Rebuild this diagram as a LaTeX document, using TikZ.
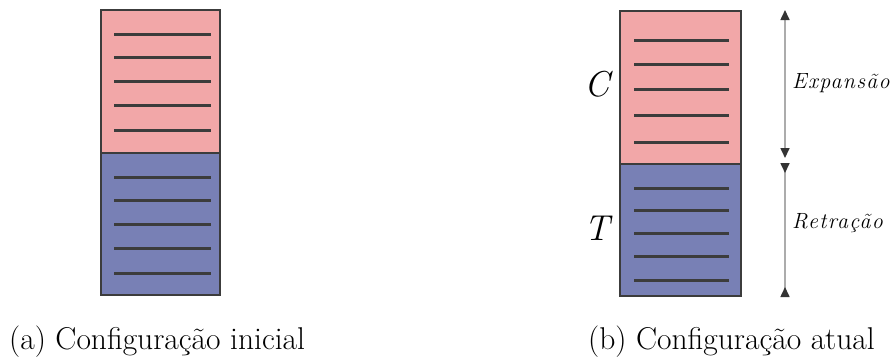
\documentclass[tikz,border=0pt]{standalone}
\usepackage{fontspec}
\newfontfamily\spacedfont[LetterSpace=6]{Latin Modern Roman}
\usetikzlibrary{arrows.meta}
\definecolor{compcol}{HTML}{F2A7A8}
\definecolor{tenscol}{HTML}{7880B5}
\definecolor{edgecol}{HTML}{3C3C3C}
\begin{document}
\begin{tikzpicture}[x=1pt, y=-1pt,
  halfbox/.style={rectangle, draw=edgecol, line width=2.2pt, inner sep=0pt,
               minimum width=119pt},
  hcomp/.style={halfbox, fill=compcol},
  htens/.style={halfbox, fill=tenscol},
  layerline/.style={draw=edgecol, line width=3pt},
  dimline/.style={draw=gray!65, line width=1.6pt},
  captext/.style={inner sep=0pt, font=\fontsize{31.5}{36}\selectfont},
  zonetext/.style={inner sep=0pt, font=\fontsize{36}{40}\selectfont\itshape},
  notetext/.style={inner sep=0pt, font=\fontsize{22}{26}\spacedfont\itshape},
]
\useasboundingbox (0,0) rectangle (893,360);

% (a) initial configuration
\node[hcomp, minimum height=143pt] (CA) at (160.5,81.5) {};
\node[htens, minimum height=142pt] (TA) at (160.5,224) {};
\draw[layerline] (114,34)  -- (211,34);
\draw[layerline] (114,57)  -- (211,57);
\draw[layerline] (114,81)  -- (211,81);
\draw[layerline] (114,105) -- (211,105);
\draw[layerline] (114,130) -- (211,130);
\draw[layerline] (114,177) -- (211,177);
\draw[layerline] (114,200) -- (211,200);
\draw[layerline] (114,224) -- (211,224);
\draw[layerline] (114,248) -- (211,248);
\draw[layerline] (114,273) -- (211,273);

% (b) current configuration
\node[hcomp, minimum width=121pt, minimum height=153pt] (CB) at (680.5,87.5) {};
\node[htens, minimum width=121pt, minimum height=132pt] (TB) at (680.5,230) {};
\draw[layerline] (634,40)  -- (729,40);
\draw[layerline] (634,64)  -- (729,64);
\draw[layerline] (634,89)  -- (729,89);
\draw[layerline] (634,115) -- (729,115);
\draw[layerline] (634,142) -- (729,142);
\draw[layerline] (634,188) -- (729,188);
\draw[layerline] (634,210) -- (729,210);
\draw[layerline] (634,233) -- (729,233);
\draw[layerline] (634,256) -- (729,256);
\draw[layerline] (634,280) -- (729,280);

% zone labels
\node[zonetext, anchor=base west] (C) at (584,96)  {C};
\node[zonetext, anchor=base west] (T) at (584,240) {T};

% expansion / retraction
\coordinate (E1) at (785,10);
\coordinate (E2) at (785,158);
\coordinate (R1) at (785,163);
\coordinate (R2) at (785,297);
\draw[dimline, {Triangle[length=10pt,width=9pt,color=black!80]}-{Triangle[length=10pt,width=9pt,color=black!80]}] (E1) -- (E2);
\draw[dimline, {Triangle[reversed,length=10pt,width=9pt,color=black!80]}-{Triangle[reversed,length=10pt,width=9pt,color=black!80]}] (R1) -- (R2);
\node[notetext, anchor=base west] (EX) at (792,88)  {Expansão};
\node[notetext, anchor=base west] (RT) at (792,228) {Retração};

% captions
\node[captext, anchor=base west] (LA) at (9,349)   {(a) Configuração inicial};
\node[captext, anchor=base east] (LB) at (875,349) {(b) Configuração atual};

\end{tikzpicture}
\end{document}
